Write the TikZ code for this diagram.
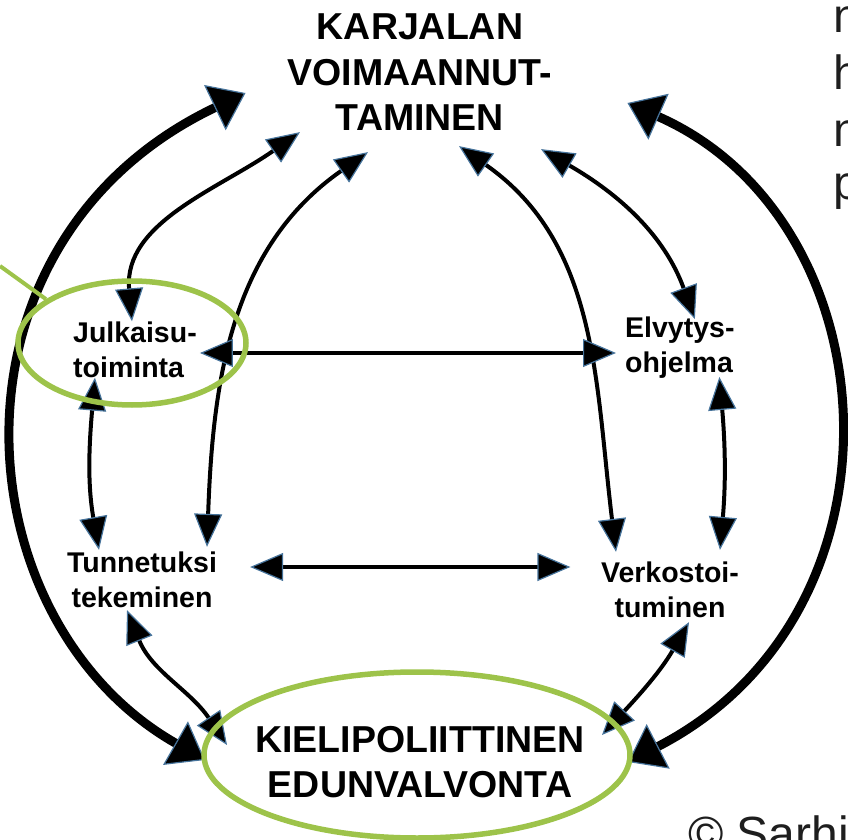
\documentclass[tikz,border=0pt]{standalone}
\usepackage{fontspec}
\setmainfont{Liberation Sans}
\usetikzlibrary{arrows.meta,shapes.geometric}
\definecolor{ringgreen}{RGB}{157,195,74}
\definecolor{tipblue}{RGB}{70,115,155}
\definecolor{slidetext}{RGB}{30,30,30}

\begin{document}
\begin{tikzpicture}[x=1pt,y=1pt]
  \tikzset{bigtitle/.style = {font=\fontsize{37.5}{45.5}\selectfont\bfseries, align=center, inner sep=0pt}}
  \tikzset{topic/.style = {font=\fontsize{28.5}{35}\selectfont\bfseries, inner sep=0pt}}
  \tikzset{ring/.style = {shape=ellipse, draw=ringgreen, line width=5.5pt, inner sep=0pt}}
  \tikzset{slide/.style = {font=\fontsize{48}{57}\selectfont, text=slidetext, inner sep=0pt, anchor=base west}}
  \tikzset{%
  tipT/.tip={Triangle[length=33pt,width=28pt,line width=1.2pt,color=tipblue,fill=black]},
  tipB/.tip={Triangle[length=34pt,width=50pt,line width=1.2pt,color=tipblue,fill=black]},
  }
  \tikzset{link/.style = {tipT-tipT, line width=4pt}}
  \tikzset{biglink/.style = {tipB-tipB, line width=9pt}}

  \useasboundingbox (0,0) rectangle (848,839);
  \clip (0,0) rectangle (848,839);

	\node[bigtitle] (karj) at (420,766.5) {KARJALAN\\VOIMAANNUT-\\TAMINEN};
	\node[bigtitle] (kiel) at (420,77) {KIELIPOLIITTINEN\\EDUNVALVONTA};

	\node[topic, anchor=west, align=left] (julk) at (73,489.5) {Julkaisu-\\toiminta};
	\node[topic, anchor=west, align=left] (elvy) at (625,491) {Elvytys-\\ohjelma};
	\node[topic, align=center] (tunn) at (142,259) {Tunnetuksi\\tekeminen};
	\node[topic, align=center] (verk) at (670,249) {Verkostoi-\\tuminen};

    % ends of the connectors
    \coordinate (kL) at ([shift={(-42,-20.5)}]karj.west);
    \coordinate (kR) at ([shift={(75,-30.5)}]karj.east);
    \coordinate (k1) at ([shift={(-120,-1)}]karj.south);
    \coordinate (k2) at ([shift={(-52,-21)}]karj.south);
    \coordinate (k3) at ([shift={(39,-15)}]karj.south);
    \coordinate (k4) at ([shift={(121,-18)}]karj.south);
    \coordinate (eL) at ([shift={(-215,2)}]kiel.center);
    \coordinate (eR) at ([shift={(208,0)}]kiel.center);
    \coordinate (e1) at ([shift={(-193,17)}]kiel.center);
    \coordinate (e2) at ([shift={(182,27)}]kiel.center);
    \coordinate (jn) at ([xshift=-3]julk.north);
    \coordinate (js) at ([xshift=-40]julk.south);
    \coordinate (je) at ([shift={(3,-3.5)}]julk.east);
    \coordinate (en) at ([shift={(15,-2)}]elvy.north);
    \coordinate (es) at ([shift={(39.5,2)}]elvy.south);
    \coordinate (ew) at ([shift={(-9,-5)}]elvy.west);
    \coordinate (tn1) at ([shift={(-43,2)}]tunn.north);
    \coordinate (tn2) at ([shift={(65,5)}]tunn.north);
    \coordinate (ts) at ([shift={(-15,-2)}]tunn.south);
    \coordinate (te) at ([shift={(33,13)}]tunn.east);
    \coordinate (vn1) at ([shift={(-54,10)}]verk.north);
    \coordinate (vn2) at ([shift={(50,12)}]verk.north);
    \coordinate (vs) at ([shift={(19,-4)}]verk.south);
    \coordinate (vw) at ([shift={(-30.5,23)}]verk.west);

    \draw[biglink] (eL) .. controls +(-245,140) and +(-312,-149) .. (kL);
    \draw[biglink] (eR) .. controls +(290,150) and +(265,-117) .. (kR);

    \foreach \from/\to/\o/\i in {jn/k1/95/215, tn2/k2/88/215, vn1/k3/97/-35, en/k4/110/-30,
        js/tn1/-95/100, es/vn2/-85/85, ts/e1/-68/124, vs/e2/-120/47}
    \path[link](\from) edge[out=\o, in=\i] (\to);

    \foreach \from/\to in {je/ew, te/vw}
    \path[link](\from) edge (\to);

	\node[ring, minimum width=426pt, minimum height=166pt] (kring) at (417,84) {};
	\node[ring, minimum width=228pt, minimum height=124pt] (jring) at (132,496) {};
    \coordinate (ptr) at (0,573);
    \draw[ringgreen, line width=4pt] (ptr) -- (jring.153);

	\node[slide] (w1) at (833,806) {n};
	\node[slide] (w2) at (833,749) {h};
	\node[slide] (w3) at (833,692) {n};
	\node[slide] (w4) at (833,639) {p};
	\node[slide] (sign) at (688,-11) {© Sarhi};

\end{tikzpicture}
\end{document}
